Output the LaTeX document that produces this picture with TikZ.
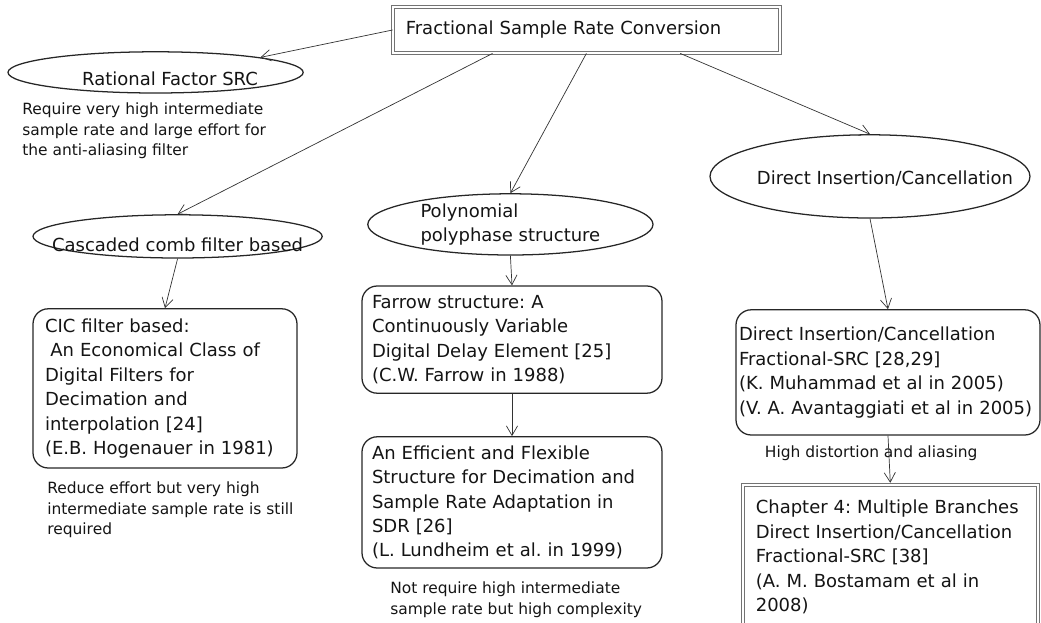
\documentclass[tikz,border=0pt]{standalone}
\usepackage{fontspec}
\setmainfont{DejaVu Sans}
\usetikzlibrary{shapes.geometric,arrows.meta}
\frenchspacing
\newcommand{\ovaltext}[2]{\makebox[1cm]{\raisebox{#1}[0pt][0pt]{#2}}}
\begin{document}
\begin{tikzpicture}[>={Straight Barb[length=2.4mm,width=2.8mm]}]
	\tikzstyle{txt}=[font=\fontsize{12.8pt}{17.4pt}\selectfont,text=black!92]
	\tikzstyle{note}=[font=\fontsize{11pt}{14.6pt}\selectfont,text=black!92,align=left,inner sep=0pt]
	\tikzstyle{oval}=[txt,ellipse,draw=black!85,line width=0.9pt,inner sep=1pt]
	\tikzstyle{rbox}=[txt,rectangle,rounded corners=0.38cm,draw=black!85,line width=0.9pt,align=left,inner ysep=0pt]
	\tikzstyle{dbox}=[txt,rectangle,draw=black!55,double,double distance=1.6pt,line width=0.6pt,align=left,inner ysep=0pt]
	\tikzstyle{link}=[->,line width=0.5pt,draw=black!80]

	\useasboundingbox (0,0) rectangle (26.025,15.55);

	\node[dbox,text width=9.03cm,inner xsep=0.32cm,minimum height=1.15cm] (top) at (14.66,14.8) {Fractional Sample Rate Conversion};

	\node[oval,minimum width=7.38cm,minimum height=1.03cm] (rat) at (3.89,13.74) {\ovaltext{-0.32cm}{\hspace*{0.72cm}Rational Factor SRC}};
	\node[oval,minimum width=7.23cm,minimum height=1.08cm] (cas) at (4.44,9.64) {\ovaltext{-0.37cm}{Cascaded comb filter based}};
	\node[oval,minimum width=7.13cm,minimum height=1.53cm] (poly) at (12.76,9.94) {\ovaltext{-0.11cm}{\begin{tabular}{@{}l@{}}Polynomial\\polyphase structure\end{tabular}}};
	\node[oval,minimum width=8cm,minimum height=2.08cm] (dir) at (21.75,11.14) {\ovaltext{-0.2cm}{\hspace*{0.75cm}Direct Insertion/Cancellation}};

	\node[note,anchor=north west] (ratnote) at (0.55,12.98) {Require very high intermediate\\sample rate and large effort for\\the anti-aliasing filter};

	\node[rbox,text width=6.0cm,inner xsep=0.3cm,minimum height=3.98cm] (cic) at (4.125,5.84) {CIC filter based:\\\hspace*{0.3em}An Economical Class of\\Digital Filters for\\Decimation and\\interpolation [24]\\(E.B. Hogenauer in 1981)};
	\node[note,anchor=north west] (cicnote) at (1.175,3.51) {Reduce effort but very high\\intermediate sample rate is still\\required};

	\node[rbox,text width=7cm,inner xsep=0.25cm,minimum height=2.68cm] (far) at (12.8,7.06) {Farrow structure: A\\Continuously Variable\\Digital Delay Element [25]\\(C.W. Farrow in 1988)};
	\node[rbox,text width=7cm,inner xsep=0.25cm,minimum height=3.28cm] (eff) at (12.8,2.99) {An Efficient and Flexible\\Structure for Decimation and\\Sample Rate Adaptation in\\SDR [26]\\(L. Lundheim et al. in 1999)};
	\node[note,anchor=north west] (effnote) at (9.75,1.01) {Not require high intermediate\\sample rate but high complexity};

	\node[rbox,text width=7.45cm,inner xsep=0.075cm,minimum height=3.13cm] (dic) at (22.2,6.24) {Direct Insertion/Cancellation\\Fractional-SRC [28,29]\\(K. Muhammad et al in 2005)\\(V. A. Avantaggiati et al in 2005)};
	\node[note] (hd) at (21.78,4.23) {High distortion and aliasing};
	\node[dbox,text width=6.73cm,inner xsep=0.325cm,minimum height=3.6cm] (ch4) at (22.26,1.62) {Chapter 4: Multiple Branches\\Direct Insertion/Cancellation\\Fractional-SRC [38]\\(A. M. Bostamam et al in\\2008)};

	\path (top.west) edge[link] (rat.north east);
	\path ([xshift=2.5cm]top.south west) edge[link] (cas.north);
	\path (top.south) edge[link] (poly.north);
	\path ([xshift=-2.5cm]top.south east) edge[link] (dir.north);
	\path (cas.south) edge[link] (cic.north);
	\path (poly.south) edge[link] (far.north);
	\path (far.south) edge[link] (eff.north);
	\path (dir.south) edge[link] (dic.north);
	\path (dic.south) edge[link,shorten >=1.4pt] (ch4.north);
\end{tikzpicture}
\end{document}
